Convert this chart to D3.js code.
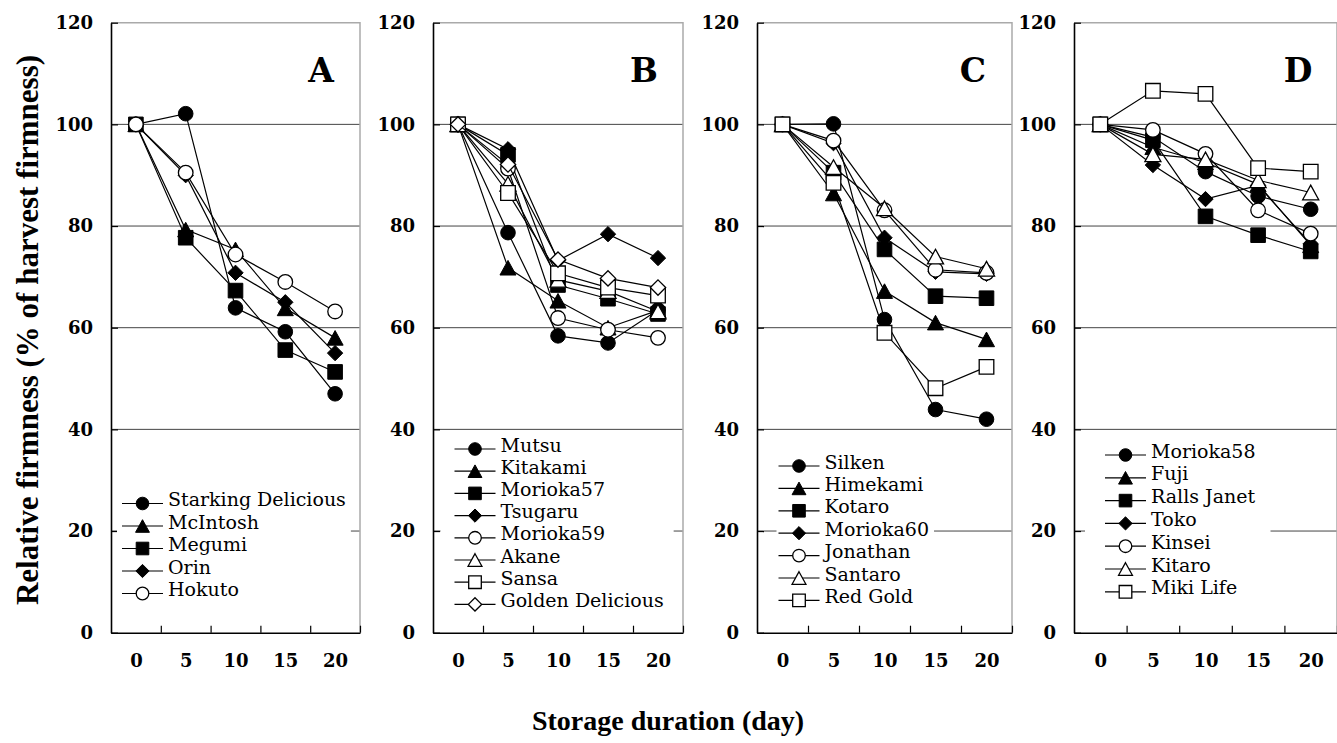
<!DOCTYPE html>
<html>
<head>
<meta charset="utf-8">
<script src="https://cdn.jsdelivr.net/npm/d3@7"></script>
<style>
  body { margin: 0; background: #fff; }
</style>
</head>
<body>
<svg id="chart" width="1337" height="743"></svg>
<script>
// storage days and y ticks
var days = [0, 5, 10, 15, 20];
var yTicks = [0, 20, 40, 60, 80, 100, 120];
var panelLetters = ["A", "B", "C", "D"];

// panel A
var namesA = ["Starking Delicious", "McIntosh", "Megumi", "Orin", "Hokuto"];
var valuesA = [
    [100, 102.1, 63.9, 59.2, 47.0],
    [100, 79.3, 75.4, 63.8, 58.0],
    [100, 77.7, 67.3, 55.6, 51.3],
    [100, 90.0, 70.8, 65.0, 55.0],
    [100, 90.5, 74.4, 69.0, 63.2]
];

// panel B
var namesB = ["Mutsu", "Kitakami", "Morioka57", "Tsugaru", "Morioka59", "Akane", "Sansa", "Golden Delicious"];
var valuesB = [
    [100, 78.7, 58.4, 57.0, 63.5],
    [100, 71.8, 65.3, 60.0, 63.4],
    [100, 94.0, 68.4, 65.7, 62.7],
    [100, 95.1, 73.2, 78.4, 73.7],
    [100, 91.3, 61.9, 59.6, 58.0],
    [100, 88.3, 69.4, 67.2, 63.2],
    [100, 86.5, 70.7, 67.9, 66.3],
    [100, 92.1, 73.4, 69.7, 67.9]
];

// panel C
var namesC = ["Silken", "Himekami", "Kotaro", "Morioka60", "Jonathan", "Santaro", "Red Gold"];
var valuesC = [
    [100, 100.1, 61.6, 43.9, 42.0],
    [100, 86.4, 67.2, 61.0, 57.7],
    [100, 90.5, 75.4, 66.2, 65.8],
    [100, 96.3, 77.7, 71.0, 70.6],
    [100, 96.8, 83.1, 71.4, 70.8],
    [100, 91.6, 83.5, 74.0, 71.6],
    [100, 88.5, 59.0, 48.1, 52.3]
];

// panel D
var namesD = ["Morioka58", "Fuji", "Ralls Janet", "Toko", "Kinsei", "Kitaro", "Miki Life"];
var valuesD = [
    [100, 97.5, 90.7, 85.9, 83.3],
    [100, 95.5, 92.5, 88.2, 76.2],
    [100, 96.9, 81.9, 78.2, 75.0],
    [100, 92.0, 85.3, 88.0, 76.5],
    [100, 98.9, 94.2, 83.1, 78.5],
    [100, 94.1, 93.1, 89.0, 86.6],
    [100, 106.6, 106.0, 91.4, 90.7]
];

var panelNames = [namesA, namesB, namesC, namesD];
var panelValues = [valuesA, valuesB, valuesC, valuesD];

// marker used by the n-th series of every panel
var markerTypes = ["circle", "triangle", "square", "diamond",
                   "openCircle", "openTriangle", "openSquare", "openDiamond"];

// layout
var panelLeft  = [111, 433, 757, 1074];
var panelRight = [360, 683, 1012, 1337];
var legendOffset = [11, 21.5, 21.5, 31];
var legendTop = [503.5, 449, 466, 455];
var legendStep = [22.5, 22.2, 22.4, 22.8];
var legendPadL = [5, 14, 2, 20];
var legendPadR = [5, 10, 5, 15];

var svg = d3.select("#chart");

var y = d3.scaleLinear().domain([0, 120]).range([632.7, 22.7]);

function markerPath(type, s) {
    var kind = type.replace("open", "").toLowerCase();
    if (kind == "circle") {
        return "M" + (-s) + ",0A" + s + "," + s + " 0 1,0 " + s + ",0A" + s + "," + s + " 0 1,0 " + (-s) + ",0Z";
    }
    if (kind == "square") {
        return "M" + (-s) + "," + (-s) + "h" + 2 * s + "v" + 2 * s + "h" + (-2 * s) + "Z";
    }
    if (kind == "triangle") {
        var w = s * 1.1, h = s;
        return "M0," + (-h) + "L" + w + "," + h + "L" + (-w) + "," + h + "Z";
    }
    var d = s * 1.05;
    return "M0," + (-d) + "L" + d + ",0L0," + d + "L" + (-d) + ",0Z";
}

function styleMarker(sel, type) {
    var open = type.indexOf("open") == 0;
    sel.attr("fill", open ? "#fff" : "#000")
        .attr("stroke", "#000")
        .attr("stroke-width", open ? 1.3 : 1);
}

panelValues.forEach(function(values, p) {
    var left = panelLeft[p], right = panelRight[p];
    var names = panelNames[p];

    var x = d3.scaleLinear().domain([-2.5, 22.5]).range([left, right]);

    var g = svg.append("g");

    // gridlines
    g.selectAll("line.grid")
        .data(yTicks.filter(function(t) { return t > 0 && t < 120; }))
        .join("line")
        .attr("class", "grid")
        .attr("x1", left).attr("x2", right)
        .attr("y1", function(d) { return y(d); })
        .attr("y2", function(d) { return y(d); })
        .attr("stroke", "#444")
        .attr("stroke-width", 1);

    // grey frame top and right
    g.append("path")
        .attr("d", "M" + left + "," + y(120) + "H" + right + "V" + y(0))
        .attr("fill", "none")
        .attr("stroke", "#aaa")
        .attr("stroke-width", 1.5);

    // Y axis
    var yAxis = d3.axisLeft(y)
        .tickValues(yTicks)
        .tickSizeInner(-7)
        .tickSizeOuter(0)
        .tickPadding(18);
    var ya = g.append("g")
        .attr("transform", "translate(" + left + ",0)")
        .call(yAxis);

    // X axis ticks between days
    var xTicks = d3.axisBottom(x)
        .tickValues(days.map(function(d) { return d + 2.5; }))
        .tickSizeInner(-7)
        .tickSizeOuter(0)
        .tickFormat("");
    var xa = g.append("g")
        .attr("transform", "translate(0," + y(0) + ")")
        .call(xTicks);

    // X axis labels
    var xLabels = d3.axisBottom(x)
        .tickValues(days)
        .tickSize(0)
        .tickPadding(22);
    var xl = g.append("g")
        .attr("transform", "translate(0," + y(0) + ")")
        .call(xLabels);
    xl.select(".domain").remove();

    [ya, xa].forEach(function(a) {
        a.select(".domain").attr("stroke", "#000").attr("stroke-width", 1.6);
        a.selectAll(".tick line").attr("stroke", "#000").attr("stroke-width", 1.2);
    });
    [ya, xl].forEach(function(a) {
        a.selectAll("text")
            .attr("fill", "#000")
            .style("font-family", "'DejaVu Serif', 'Liberation Serif', serif")
            .style("font-weight", "bold")
            .style("font-size", "18px");
    });

    // series
    values.forEach(function(vals, s) {
        var type = markerTypes[s];
        var pts = days.map(function(d, i) { return [d, vals[i]]; });

        g.append("path")
            .datum(pts)
            .attr("fill", "none")
            .attr("stroke", "#000")
            .attr("stroke-width", 1.2)
            .attr("d", d3.line()
                .x(function(d) { return x(d[0]); })
                .y(function(d) { return y(d[1]); }));

        g.selectAll("path.m" + s)
            .data(pts)
            .join("path")
            .attr("class", "m" + s)
            .attr("transform", function(d) { return "translate(" + x(d[0]) + "," + y(d[1]) + ")"; })
            .attr("d", markerPath(type, 7.3))
            .call(styleMarker, type);
    });

    // panel letter
    g.append("text")
        .text(panelLetters[p])
        .attr("x", right - 39)
        .attr("y", 82)
        .attr("text-anchor", "middle")
        .style("font-family", "'DejaVu Serif', 'Liberation Serif', serif")
        .style("font-weight", "bold")
        .style("font-size", "33px");

    // legend
    var lg = g.append("g");
    var box = lg.append("rect").attr("fill", "#fff");
    var lx = left + legendOffset[p];
    names.forEach(function(name, s) {
        var type = markerTypes[s];
        var ry = legendTop[p] + s * legendStep[p];
        lg.append("line")
            .attr("x1", lx).attr("x2", lx + 41)
            .attr("y1", ry).attr("y2", ry)
            .attr("stroke", "#000")
            .attr("stroke-width", 1.2);
        lg.append("path")
            .attr("transform", "translate(" + (lx + 20.5) + "," + ry + ")")
            .attr("d", markerPath(type, 6.3))
            .call(styleMarker, type);
        lg.append("text")
            .text(name)
            .attr("x", lx + 46)
            .attr("y", ry + 2.5)
            .style("font-family", "'DejaVu Serif', 'Liberation Serif', serif")
            .style("font-size", "19px");
    });
    var bb = lg.node().getBBox();
    box.attr("x", lx - legendPadL[p])
        .attr("y", bb.y - 3)
        .attr("width", bb.x + bb.width - lx + legendPadL[p] + legendPadR[p])
        .attr("height", bb.height + 6);
});

// axis titles
svg.append("text")
    .text("Storage duration (day)")
    .attr("x", 668)
    .attr("y", 730)
    .attr("text-anchor", "middle")
    .style("font-family", "'Liberation Serif', serif")
    .style("font-weight", "bold")
    .style("font-size", "28px");

svg.append("text")
    .text("Relative firmness (% of harvest firmness)")
    .attr("transform", "translate(38,330) rotate(-90)")
    .attr("text-anchor", "middle")
    .style("font-family", "'Liberation Serif', serif")
    .style("font-weight", "bold")
    .style("font-size", "31px");
</script>
</body>
</html>
